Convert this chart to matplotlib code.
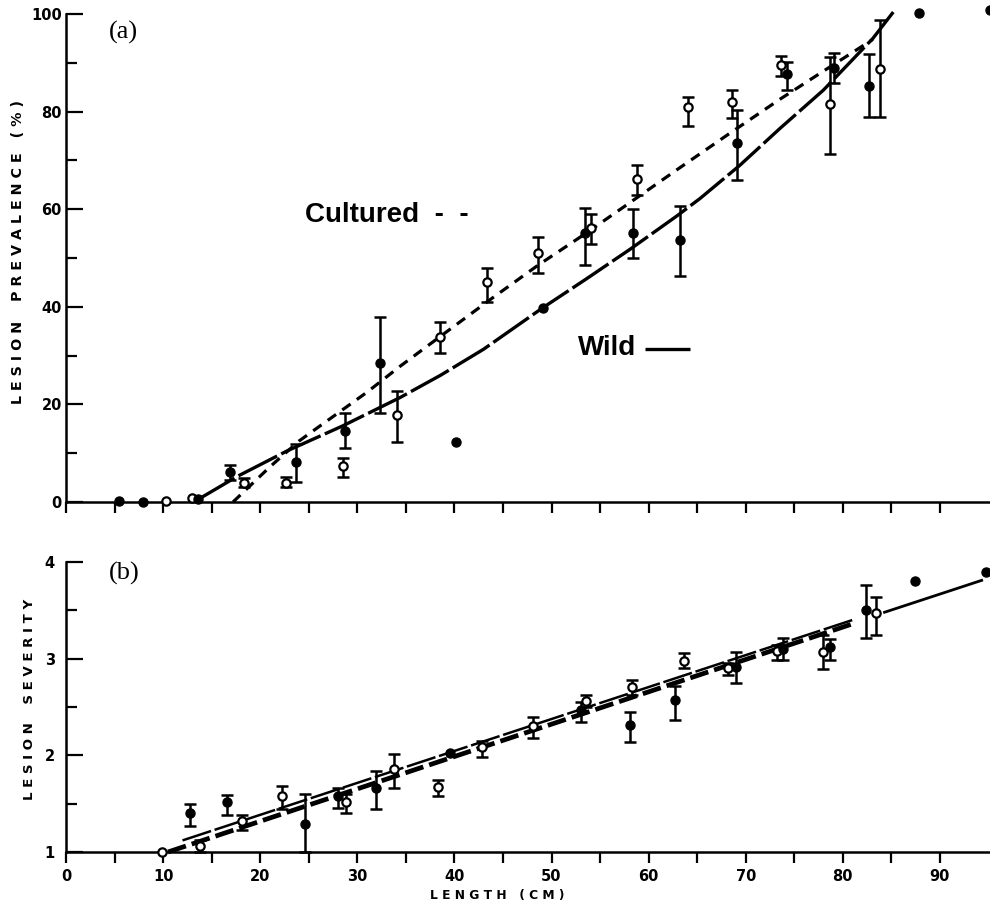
import numpy as np
import matplotlib
matplotlib.use("Agg")
import matplotlib.pyplot as plt
from matplotlib.lines import Line2D

nan = np.nan

# ---------------- Panel (a): lesion prevalence (%) ----------------
wild_a_x = [5.5, 7.9, 13.6, 16.9, 23.7, 28.7, 32.3, 40.2, 49.1, 53.5, 58.4, 63.2, 69.1, 74.3, 79.1, 82.7, 87.8, 95.2]
wild_a_y = [0.2, 0.0, 0.6, 6.1, 8.2, 14.6, 28.5, 12.3, 39.8, 55.1, 55.1, 53.7, 73.5, 87.7, 89.0, 85.3, 100.2, 100.8]
wild_a_hi = [nan, nan, nan, 7.6, 11.9, 18.2, 37.9, nan, nan, 60.2, 60.0, 60.7, 80.3, 90.2, 92.0, 91.8, nan, nan]
wild_a_lo = [nan, nan, nan, 4.5, 4.1, 11.1, 18.2, nan, nan, 48.6, 50.0, 46.3, 66.0, 84.4, 85.8, 78.9, nan, nan]

cult_a_x = [10.3, 13.0, 18.3, 22.7, 28.5, 34.1, 38.5, 43.4, 48.6, 54.1, 58.8, 64.1, 68.6, 73.6, 78.7, 83.8]
cult_a_y = [0.2, 0.8, 3.9, 3.9, 7.4, 17.8, 33.8, 45.1, 51.0, 56.1, 66.2, 80.9, 82.0, 89.5, 81.6, 88.7]
cult_a_hi = [nan, nan, 4.9, 5.1, 9.0, 22.7, 36.9, 48.0, 54.3, 59.0, 69.1, 83.0, 84.4, 91.4, 91.2, 98.8]
cult_a_lo = [nan, nan, 3.1, 3.1, 5.1, 12.3, 30.5, 41.0, 46.9, 52.9, 62.9, 77.0, 78.7, 87.3, 71.3, 78.9]

# fitted curves
wild_a_fit_x = [13.5, 17.6, 22.8, 28.5, 34.4, 38.6, 43.0, 49.1, 53.5, 58.1, 62.9, 65.3, 69.4, 73.5, 78.0, 83.1, 85.2]
wild_a_fit_y = [0.4, 5.2, 10.5, 15.6, 21.4, 26.0, 31.3, 39.8, 45.6, 51.8, 58.6, 62.2, 69.0, 76.5, 84.4, 95.0, 100.4]
cult_a_fit_x = [17.2, 21.0, 24.0, 31.0, 34.4, 38.6, 43.7, 48.6, 53.5, 58.4, 63.0, 68.1, 73.5, 78.4, 83.1]
cult_a_fit_y = [0.0, 7.2, 12.5, 22.5, 27.8, 34.0, 41.5, 48.5, 55.0, 61.8, 68.2, 75.2, 82.5, 88.8, 94.8]

# ---------------- Panel (b): lesion severity ----------------
wild_b_x = [12.8, 16.6, 24.6, 28.0, 31.9, 39.5, 53.0, 58.1, 62.7, 69.0, 73.8, 78.7, 82.4, 87.4, 94.7]
wild_b_y = [1.40, 1.52, 1.29, 1.58, 1.66, 2.02, 2.47, 2.31, 2.57, 2.91, 3.10, 3.12, 3.50, 3.80, 3.90]
wild_b_hi = [1.50, 1.59, 1.60, 1.66, 1.84, nan, 2.55, 2.45, 2.72, 3.07, 3.21, 3.20, 3.76, nan, nan]
wild_b_lo = [1.27, 1.38, 1.00, 1.46, 1.44, nan, 2.35, 2.14, 2.37, 2.75, 2.99, 2.99, 3.21, nan, nan]

cult_b_x = [9.9, 13.8, 18.1, 22.2, 28.8, 33.8, 38.3, 42.8, 48.1, 53.6, 58.3, 63.6, 68.2, 73.2, 78.0, 83.4]
cult_b_y = [1.00, 1.06, 1.32, 1.58, 1.52, 1.86, 1.67, 2.09, 2.30, 2.56, 2.71, 2.98, 2.90, 3.08, 3.07, 3.47]
cult_b_hi = [nan, 1.12, 1.38, 1.68, 1.60, 2.01, 1.74, 2.15, 2.40, 2.62, 2.78, 3.06, 2.96, 3.14, 3.25, 3.64]
cult_b_lo = [nan, 1.00, 1.23, 1.44, 1.40, 1.66, 1.58, 1.98, 2.18, 2.50, 2.62, 2.90, 2.83, 2.99, 2.89, 3.25]

wild_b_fit_x = [12.0, 81.0]
wild_b_fit_y = [1.12, 3.40]
wild_b_tail_x = [84.3, 94.3]
wild_b_tail_y = [3.48, 3.81]
cult_b_fit_x = [10.5, 81.0]
cult_b_fit_y = [1.00, 3.36]

x_labels = [0, 10, 20, 30, 40, 50, 60, 70, 80, 90]
ya_labels = [0, 20, 40, 60, 80, 100]
yb_labels = [1, 2, 3, 4]

# ---------------- figure ----------------
W, H = 990, 907
fig = plt.figure(figsize=(W / 100, H / 100), dpi=100)
fig.patch.set_facecolor("white")


def fx(px):
    return px / W


def fy(py):
    return 1 - py / H


ax_a = fig.add_axes([fx(66), fy(502), fx(990) - fx(66), fy(14) - fy(502)])
ax_b = fig.add_axes([fx(66), fy(852), fx(990) - fx(66), fy(562) - fy(852)])

SANS = ["DejaVu Sans"]
tick_font = dict(family=SANS, weight="bold", size=10.5)


def err_arrays(y, hi, lo):
    y = np.asarray(y, float)
    hi = np.asarray(hi, float)
    lo = np.asarray(lo, float)
    up = np.where(np.isnan(hi), 0, hi - y)
    dn = np.where(np.isnan(lo), 0, y - lo)
    has = ~np.isnan(hi)
    return up, dn, has


def draw_points(ax, x, y, hi, lo, filled):
    x = np.asarray(x, float)
    y = np.asarray(y, float)
    up, dn, has = err_arrays(y, hi, lo)
    ax.errorbar(x[has], y[has], yerr=[dn[has], up[has]], fmt="none",
                ecolor="black", elinewidth=1.8, capsize=4, capthick=1.8,
                clip_on=False, zorder=3)
    if filled:
        ax.plot(x, y, "o", ms=6.5, mfc="black", mec="black", mew=1.0,
                clip_on=False, zorder=5, ls="none")
    else:
        ax.plot(x, y, "o", ms=6, mfc="white", mec="black", mew=1.6,
                clip_on=False, zorder=5, ls="none")


for ax in (ax_a, ax_b):
    ax.set_xlim(0, (990 - 66) / 9.71)
    for s in ("top", "right"):
        ax.spines[s].set_visible(False)
    ax.spines["left"].set_linewidth(1.8)
    ax.spines["bottom"].set_linewidth(1.8)
    ax.set_xticks(np.arange(0, 95, 10))
    ax.set_xticks(np.arange(5, 95, 10), minor=True)
    ax.tick_params(axis="x", which="both", direction="out", length=8, width=1.6)
    ax.tick_params(axis="y", which="major", direction="in", length=12, width=1.6)
    ax.tick_params(axis="y", which="minor", direction="in", length=8, width=1.6)
    ax.set_facecolor("none")

# ---- panel (a)
ax_a.set_ylim(0, 100)
ax_a.set_yticks(ya_labels)
ax_a.set_yticks(np.arange(10, 100, 20), minor=True)
ax_a.set_xticklabels([])
ax_a.set_yticklabels([str(v) for v in ya_labels], fontdict=tick_font)
ax_a.tick_params(axis="y", which="major", pad=3)

ax_a.plot(wild_a_fit_x, wild_a_fit_y, color="black", lw=2.4,
          ls=(0, (13, 1.4)), solid_capstyle="butt", clip_on=False, zorder=2)
ax_a.plot(cult_a_fit_x, cult_a_fit_y, color="black", lw=2.3,
          ls=(0, (3.2, 2.4)), dash_capstyle="butt", clip_on=False, zorder=2)

draw_points(ax_a, cult_a_x, cult_a_y, cult_a_hi, cult_a_lo, filled=False)
draw_points(ax_a, wild_a_x, wild_a_y, wild_a_hi, wild_a_lo, filled=True)

ax_a.text(4.4, 96.3, "(a)", family=["Liberation Serif", "DejaVu Serif"],
          size=19, ha="left", va="center")
ax_a.text(24.6, 58.8, "Cultured  -  -", family=["Liberation Sans", "DejaVu Sans"],
          weight="bold", size=20, ha="left", va="center")
ax_a.text(52.7, 31.5, "Wild", family=["Liberation Sans", "DejaVu Sans"],
          weight="bold", size=20, ha="left", va="center")
fig.add_artist(Line2D([fx(645), fx(690)], [fy(349), fy(349)], color="black",
                      lw=2.4, solid_capstyle="butt"))

fig.text(fx(18), fy(252), "L E S I O N    P R E V A L E N C E   ( % )",
         rotation=90, ha="center", va="center",
         family=SANS, weight="bold", size=10.3)

# ---- panel (b)
ax_b.set_ylim(1, 4)
ax_b.set_yticks(yb_labels)
ax_b.set_yticks([1.5, 2.5, 3.5], minor=True)
ax_b.set_yticklabels([str(v) for v in yb_labels], fontdict=tick_font)
ax_b.set_xticklabels([str(v) for v in x_labels], fontdict=tick_font)
ax_b.tick_params(axis="x", which="major", pad=4)
ax_b.tick_params(axis="y", which="major", pad=8)

ax_b.plot(cult_b_fit_x, cult_b_fit_y, color="black", lw=3.4,
          ls=(0, (4.0, 1.3)), dash_capstyle="butt", clip_on=False, zorder=2)
ax_b.plot(wild_b_fit_x, wild_b_fit_y, color="black", lw=1.8,
          ls=(0, (12, 1.5)), clip_on=False, zorder=2)
ax_b.plot(wild_b_tail_x, wild_b_tail_y, color="black", lw=2.0,
          ls="-", clip_on=False, zorder=2)

draw_points(ax_b, cult_b_x, cult_b_y, cult_b_hi, cult_b_lo, filled=False)
draw_points(ax_b, wild_b_x, wild_b_y, wild_b_hi, wild_b_lo, filled=True)

ax_b.text(4.4, 3.88, "(b)", family=["Liberation Serif", "DejaVu Serif"],
          size=19, ha="left", va="center")

fig.text(fx(30), fy(699), "L E S I O N    S E V E R I T Y",
         rotation=90, ha="center", va="center",
         family=SANS, weight="bold", size=9.6)
fig.text(fx(497), fy(896), "L E N G T H   ( C M )", ha="center", va="center",
         family=SANS, weight="bold", size=8.8)

fig.savefig("out.png", dpi=100, facecolor="white")
